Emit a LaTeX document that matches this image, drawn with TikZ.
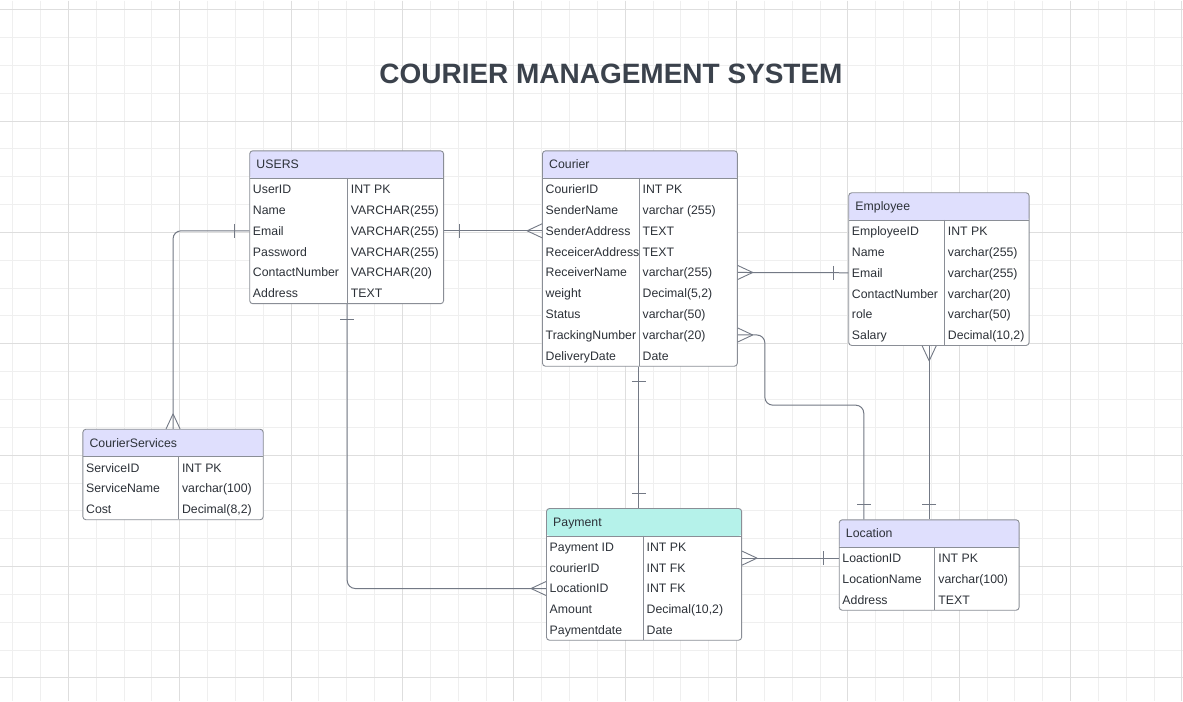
\documentclass[tikz,border=0pt]{standalone}
\usepackage{fontspec}
\setmainfont{Liberation Sans}
\usepackage{tikz}
\definecolor{gridminor}{HTML}{EFEFEF}
\definecolor{gridmajor}{HTML}{DEDEDE}
\definecolor{hdr}{HTML}{DFDFFD}
\definecolor{hdrpay}{HTML}{B5F2EA}
\definecolor{frame}{HTML}{8A8E96}
\definecolor{link}{HTML}{737985}
\definecolor{ink}{HTML}{2C3138}
\definecolor{titlegray}{HTML}{3B424C}

\begin{document}
\begin{tikzpicture}[
  x=1pt, y=-1pt,
  tbl/.style={draw=frame, line width=0.9pt, rounded corners=3pt, fill=white,
              anchor=north west, inner sep=0pt,
              path picture={\fill[#1] (path picture bounding box.north west)
                rectangle ([yshift=-27.5pt]path picture bounding box.north east);
                \draw[frame, line width=0.9pt] ([yshift=-27.5pt]path picture bounding box.north west)
                -- ([yshift=-27.5pt]path picture bounding box.north east);}},
  col/.style={frame, line width=0.9pt},
  head/.style={anchor=west, inner xsep=7pt, inner ysep=0pt, text height=8.8pt, text depth=0pt,
               font=\fontsize{12.3}{14}\selectfont, text=ink},
  fld/.style={anchor=west, inner xsep=3.5pt, inner ysep=0pt, text height=8.8pt, text depth=0pt,
              font=\fontsize{12.3}{14}\selectfont, text=ink},
  rel/.style={draw=link, line width=1pt, rounded corners=8pt},
  title/.style={font=\fontsize{28}{32}\selectfont\bfseries, text=titlegray,
                text height=20pt, text depth=0pt, inner sep=0pt},
  many/.pic={\draw[link, line width=0.9pt] (-15,0) -- (0,7) (-15,0) -- (0,-7);},
  one/.pic={\draw[link, line width=0.9pt] (-15,-7) -- (-15,7);},
]

% background grid
\fill[white] (0,0) rectangle (1183,701);
\foreach \gx in {0,...,42} \draw[gridminor, line width=1pt] ({12.3+27.86*\gx},0) -- ({12.3+27.86*\gx},701);
\foreach \gy in {0,...,24} \draw[gridminor, line width=1pt] (0,{9.3+27.86*\gy}) -- (1183,{9.3+27.86*\gy});
\foreach \gx in {0,...,10} \draw[gridmajor, line width=1pt] ({68+111.43*\gx},0) -- ({68+111.43*\gx},701);
\foreach \gy in {0,...,6} \draw[gridmajor, line width=1pt] (0,{9.3+111.43*\gy}) -- (1183,{9.3+111.43*\gy});
\useasboundingbox (0,0) rectangle (1183,701);

\node[title] (title) at (611,73.3) {COURIER MANAGEMENT SYSTEM};

% USERS
\node[tbl=hdr, minimum width=194pt, minimum height=153pt] (users) at (249,150) {};
\draw[col] (347,177.5) -- (347,303);
\node[head] (users-h) at (249,164) {USERS};
\node[fld] (u-id) at (249,188.8) {UserID};
\node[fld] (u-id-t) at (347,188.8) {INT PK};
\node[fld] (u-name) at (249,209.65) {Name};
\node[fld] (u-name-t) at (347,209.65) {VARCHAR(255)};
\node[fld] (u-email) at (249,230.5) {Email};
\node[fld] (u-email-t) at (347,230.5) {VARCHAR(255)};
\node[fld] (u-pwd) at (249,251.35) {Password};
\node[fld] (u-pwd-t) at (347,251.35) {VARCHAR(255)};
\node[fld] (u-phone) at (249,272.2) {ContactNumber};
\node[fld] (u-phone-t) at (347,272.2) {VARCHAR(20)};
\node[fld] (u-addr) at (249,293.05) {Address};
\node[fld] (u-addr-t) at (347,293.05) {TEXT};

% Courier
\node[tbl=hdr, minimum width=195pt, minimum height=215.6pt] (cour) at (542,150) {};
\draw[col] (639,177.5) -- (639,365.6);
\node[head] (cour-h) at (542,164) {Courier};
\node[fld] (c-id) at (542,188.8) {CourierID};
\node[fld] (c-id-t) at (639,188.8) {INT PK};
\node[fld] (c-sname) at (542,209.65) {SenderName};
\node[fld] (c-sname-t) at (639,209.65) {varchar (255)};
\node[fld] (c-saddr) at (542,230.5) {SenderAddress};
\node[fld] (c-saddr-t) at (639,230.5) {TEXT};
\node[fld] (c-raddr) at (542,251.35) {ReceicerAddress};
\node[fld] (c-raddr-t) at (639,251.35) {TEXT};
\node[fld] (c-rname) at (542,272.2) {ReceiverName};
\node[fld] (c-rname-t) at (639,272.2) {varchar(255)};
\node[fld] (c-weight) at (542,293.05) {weight};
\node[fld] (c-weight-t) at (639,293.05) {Decimal(5,2)};
\node[fld] (c-status) at (542,313.9) {Status};
\node[fld] (c-status-t) at (639,313.9) {varchar(50)};
\node[fld] (c-track) at (542,334.75) {TrackingNumber};
\node[fld] (c-track-t) at (639,334.75) {varchar(20)};
\node[fld] (c-date) at (542,355.6) {DeliveryDate};
\node[fld] (c-date-t) at (639,355.6) {Date};

% Employee
\node[tbl=hdr, minimum width=180.5pt, minimum height=152.8pt] (emp) at (848.5,192) {};
\draw[col] (944.5,219.5) -- (944.5,344.8);
\node[head] (emp-h) at (848.5,206) {Employee};
\node[fld] (e-id) at (848.5,230.8) {EmployeeID};
\node[fld] (e-id-t) at (944.5,230.8) {INT PK};
\node[fld] (e-name) at (848.5,251.65) {Name};
\node[fld] (e-name-t) at (944.5,251.65) {varchar(255)};
\node[fld] (e-email) at (848.5,272.5) {Email};
\node[fld] (e-email-t) at (944.5,272.5) {varchar(255)};
\node[fld] (e-phone) at (848.5,293.35) {ContactNumber};
\node[fld] (e-phone-t) at (944.5,293.35) {varchar(20)};
\node[fld] (e-role) at (848.5,314.2) {role};
\node[fld] (e-role-t) at (944.5,314.2) {varchar(50)};
\node[fld] (e-salary) at (848.5,335.05) {Salary};
\node[fld] (e-salary-t) at (944.5,335.05) {Decimal(10,2)};

% CourierServices
\node[tbl=hdr, minimum width=180.5pt, minimum height=90.5pt] (cs) at (82,428.7) {};
\draw[col] (178,456.2) -- (178,519.2);
\node[head] (cs-h) at (82,442.7) {CourierServices};
\node[fld] (s-id) at (82,467.5) {ServiceID};
\node[fld] (s-id-t) at (178,467.5) {INT PK};
\node[fld] (s-name) at (82,488.35) {ServiceName};
\node[fld] (s-name-t) at (178,488.35) {varchar(100)};
\node[fld] (s-cost) at (82,509.2) {Cost};
\node[fld] (s-cost-t) at (178,509.2) {Decimal(8,2)};

% Payment
\node[tbl=hdrpay, minimum width=195.3pt, minimum height=131.8pt] (pay) at (546,508) {};
\draw[col] (643,535.5) -- (643,639.8);
\node[head] (pay-h) at (546,522) {Payment};
\node[fld] (p-id) at (546,546.8) {Payment ID};
\node[fld] (p-id-t) at (643,546.8) {INT PK};
\node[fld] (p-cour) at (546,567.65) {courierID};
\node[fld] (p-cour-t) at (643,567.65) {INT FK};
\node[fld] (p-loc) at (546,588.5) {LocationID};
\node[fld] (p-loc-t) at (643,588.5) {INT FK};
\node[fld] (p-amt) at (546,609.35) {Amount};
\node[fld] (p-amt-t) at (643,609.35) {Decimal(10,2)};
\node[fld] (p-date) at (546,630.2) {Paymentdate};
\node[fld] (p-date-t) at (643,630.2) {Date};

% Location
\node[tbl=hdr, minimum width=180pt, minimum height=90.5pt] (loc) at (839,519.3) {};
\draw[col] (935,546.8) -- (935,609.8);
\node[head] (loc-h) at (839,533.3) {Location};
\node[fld] (l-id) at (839,558.1) {LoactionID};
\node[fld] (l-id-t) at (935,558.1) {INT PK};
\node[fld] (l-name) at (839,578.95) {LocationName};
\node[fld] (l-name-t) at (935,578.95) {varchar(100)};
\node[fld] (l-addr) at (839,599.8) {Address};
\node[fld] (l-addr-t) at (935,599.8) {TEXT};

\coordinate (l-top) at (864,519.3);

% relations
\draw[rel] (u-email.west) -| (cs.north);
\pic at (u-email.west) {one};
\pic[rotate=-90] at (cs.north) {many};

\draw[rel] (u-email -| users.east) -- (c-saddr.west);
\pic[rotate=180] at (u-email -| users.east) {one};
\pic at (c-saddr.west) {many};

\draw[rel] (c-rname -| cour.east) -- (e-email.west);
\pic[rotate=180] at (c-rname -| cour.east) {many};
\pic at (e-email.west) {one};

\draw[rel] (c-track -| cour.east) -| (765,405) -| (l-top);
\pic[rotate=180] at (c-track -| cour.east) {many};
\pic[rotate=-90] at (l-top) {one};

\draw[rel] (loc.north |- emp.south) -- (loc.north);
\pic[rotate=90] at (loc.north |- emp.south) {many};
\pic[rotate=-90] at (loc.north) {one};

\draw[rel] (c-id-t.west |- cour.south) -- (c-id-t.west |- pay.north);
\pic[rotate=90] at (c-id-t.west |- cour.south) {one};
\pic[rotate=-90] at (c-id-t.west |- pay.north) {one};

\draw[rel] (l-id -| pay.east) -- (l-id.west);
\pic[rotate=180] at (l-id -| pay.east) {many};
\pic at (l-id.west) {one};

\draw[rel] (u-id-t.west |- users.south) |- (p-loc.west);
\pic[rotate=90] at (u-id-t.west |- users.south) {one};
\pic at (p-loc.west) {many};

\end{tikzpicture}
\end{document}
